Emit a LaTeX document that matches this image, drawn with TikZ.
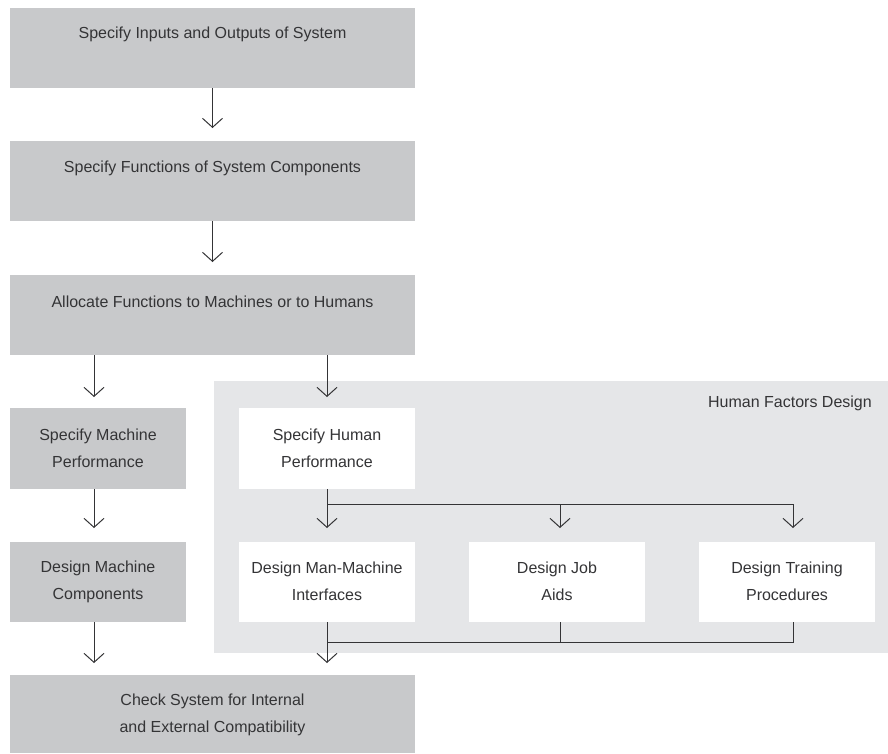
\documentclass[tikz,border=0pt]{standalone}
\usepackage{fontspec}
\setmainfont{Liberation Sans}
\usetikzlibrary{arrows.meta}
\definecolor{boxgray}{RGB}{200,201,203}
\definecolor{hfgray}{RGB}{229,230,232}
\definecolor{ink}{RGB}{52,52,54}
\begin{document}
\begin{tikzpicture}[x=1pt,y=-1pt,
  gbox/.style={fill=boxgray,draw=none,inner sep=0pt,outer sep=0pt,anchor=north west},
  wbox/.style={fill=white,draw=none,inner sep=0pt,outer sep=0pt,anchor=north west},
  txt/.style={font=\fontsize{16}{27}\selectfont,text=ink,align=center,inner sep=0pt,yshift=-1.5pt},
  conn/.style={draw=ink,line width=1pt},
  arr/.style={conn,-{Straight Barb[length=9pt,width=20pt,line width=1pt]}}]
\useasboundingbox (0,0) rectangle (888,753);
% human factors region
\node[fill=hfgray,draw=none,inner sep=0pt,outer sep=0pt,anchor=north west,minimum width=674pt,minimum height=272pt] (hf) at (214,381) {};
\node[txt,anchor=east] (hflbl) at (872,402) {Human Factors Design};
% main boxes
\node[gbox,minimum width=405pt,minimum height=80pt] (b1) at (10,8) {};
\node[txt] (t1) at (212.5,33) {Specify Inputs and Outputs of System};
\node[gbox,minimum width=405pt,minimum height=80pt] (b2) at (10,141) {};
\node[txt] (t2) at (212.5,167) {Specify Functions of System Components};
\node[gbox,minimum width=405pt,minimum height=80pt] (b3) at (10,275) {};
\node[txt] (t3) at (212.5,300) {Allocate Functions to Machines or to Humans};
% left column
\node[gbox,minimum width=176pt,minimum height=81pt] (smp) at (10,408) {};
\node[txt] (tsmp) at (98,447) {Specify Machine\\Performance};
\node[gbox,minimum width=176pt,minimum height=80pt] (dmc) at (10,542) {};
\node[txt] (tdmc) at (98,580) {Design Machine\\Components};
% human boxes
\node[wbox,minimum width=176pt,minimum height=81pt] (shp) at (239,408) {};
\node[txt] (tshp) at (327,447) {Specify Human\\Performance};
\node[wbox,minimum width=176pt,minimum height=80pt] (dmm) at (239,542) {};
\node[txt] (tdmm) at (327,580) {Design Man-Machine\\Interfaces};
\node[wbox,minimum width=176pt,minimum height=80pt] (dja) at (469,542) {};
\node[txt] (tdja) at (557,580) {Design Job\\Aids};
\node[wbox,minimum width=176pt,minimum height=80pt] (dtp) at (699,542) {};
\node[txt] (tdtp) at (787,580) {Design Training\\Procedures};
% bottom box
\node[gbox,minimum width=405pt,minimum height=78pt] (chk) at (10,675) {};
\node[txt] (tchk) at (212.5,713.5) {Check System for Internal\\and External Compatibility};
% coordinates
\coordinate (split) at (327,504);
\coordinate (sja) at (560,504);
\coordinate (stp) at (793,504);
\coordinate (join) at (327,642);
\coordinate (jja) at (560,642);
\coordinate (jtp) at (793,642);
% connectors
\draw[arr,shorten >=13pt] (b1.south) -- (b2.north);
\draw[arr,shorten >=13pt] (b2.south) -- (b3.north);
\draw[arr,shorten >=11pt] (b3.south -| 94,0) -- (smp.north -| 94,0);
\draw[arr,shorten >=11pt] (b3.south -| 327,0) -- (shp.north);
\draw[arr,shorten >=14pt] (smp.south -| 94,0) -- (dmc.north -| 94,0);
\draw[arr,shorten >=12pt] (dmc.south -| 94,0) -- (chk.north -| 94,0);
\draw[conn] (shp.south) -- (split) -- (stp);
\draw[arr,shorten >=14pt] (split) -- (dmm.north);
\draw[arr,shorten >=14pt] (sja) -- (dja.north -| sja);
\draw[arr,shorten >=14pt] (stp) -- (dtp.north -| stp);
\draw[conn] (dmm.south) -- (join) -- (jtp) -- (dtp.south -| jtp);
\draw[conn] (dja.south -| jja) -- (jja);
\draw[arr,shorten >=12pt] (join) -- (chk.north -| join);
\end{tikzpicture}
\end{document}
